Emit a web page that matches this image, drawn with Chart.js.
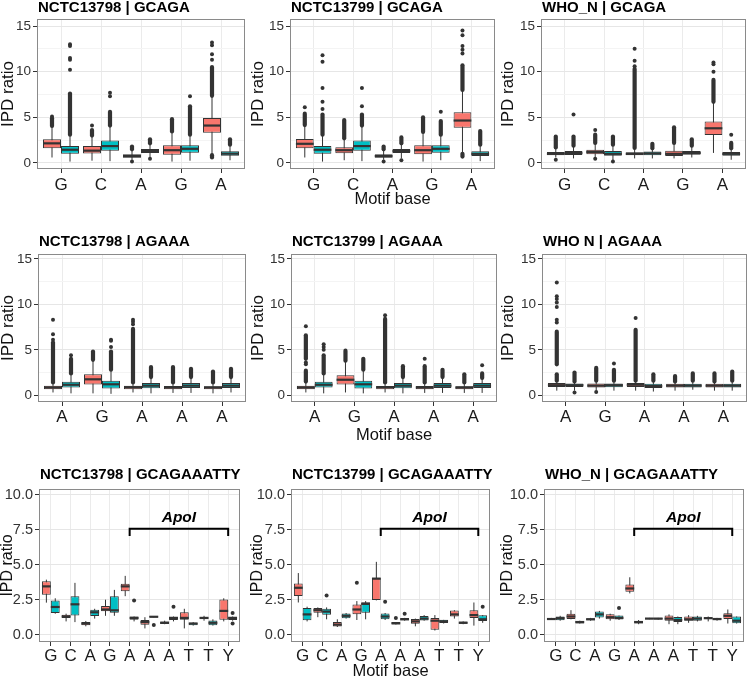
<!DOCTYPE html>
<html>
<head>
<meta charset="utf-8">
<script src="https://cdn.jsdelivr.net/npm/chart.js@4.4.0/dist/chart.umd.min.js"></script>
<style>
  body { margin: 0; background: #fff; width: 748px; height: 680px; position: relative; overflow: hidden; }
  canvas { position: absolute; }
</style>
</head>
<body>
<canvas id="p1"></canvas><canvas id="p2"></canvas><canvas id="p3"></canvas>
<canvas id="p4"></canvas><canvas id="p5"></canvas><canvas id="p6"></canvas>
<canvas id="p7"></canvas><canvas id="p8"></canvas><canvas id="p9"></canvas>
<script>
// categories
const motifGCAGA = ['G', 'C', 'A', 'G', 'A'];
const motifAGAAA = ['A', 'G', 'A', 'A', 'A'];
const motifLong = ['G', 'C', 'A', 'G', 'A', 'A', 'A', 'T', 'T', 'Y'];

// y tick labels
const yTicksBig = [0, 5, 10, 15];
const yMinorBig = [2.5, 7.5, 12.5];
const yTicksSmall = [0, 2.5, 5, 7.5, 10];
const yMinorSmall = [1.25, 3.75, 6.25, 8.75];

// box stats per base: [lower whisker, q1, median, q3, upper whisker]
// bands = ranges where outliers overlap into a solid column, pts = single outliers

// NCTC13798 | GCAGA
const n98gRed = [[0.6, 1.6, 2.15, 2.59, 4.05], [0.25, 1.05, 1.35, 1.85, 3.0], [0.35, 0.58, 0.75, 0.95, 1.5], [0.15, 0.91, 1.4, 1.93, 3.45], [0.9, 3.32, 4.1, 4.93, 7.35]];
const n98gTeal = [[0.15, 1.02, 1.45, 1.86, 3.1], [0.2, 1.35, 1.85, 2.45, 4.1], [0.5, 1.1, 1.3, 1.53, 2.15], [0.25, 1.13, 1.55, 1.93, 3.1], [0.3, 0.8, 1.02, 1.28, 2.0]];
const n98gRedBand = [[[4.05, 4.9]], [[3.0, 3.6]], [[1.5, 1.8]], [[3.45, 4.8]], [[7.35, 10.5], [0.6, 0.85]]];
const n98gTealBand = [[[3.1, 7.6]], [[4.1, 5.6]], [[2.15, 2.6]], [[3.1, 6.2]], [[2.0, 2.6]]];
const n98gRedPts = [[5.1], [4.1], [0.15], [], [11.3, 11.9, 12.9, 13.2]];
const n98gTealPts = [[10.2, 11.3, 11.5, 12.8, 13.0], [7.3, 7.7], [0.45], [7.3], []];

// NCTC13799 | GCAGA
const n99gRed = [[0.6, 1.6, 2.1, 2.63, 4.15], [0.3, 1.06, 1.4, 1.72, 2.7], [0.35, 0.58, 0.75, 0.95, 1.5], [0.15, 0.95, 1.4, 1.93, 3.4], [1.2, 3.87, 4.65, 5.55, 8.0]];
const n99gTeal = [[0.15, 1.02, 1.45, 1.86, 3.1], [0.2, 1.35, 1.85, 2.45, 4.1], [0.5, 1.1, 1.3, 1.53, 2.15], [0.3, 1.13, 1.55, 1.93, 3.1], [0.2, 0.77, 1.0, 1.28, 2.0]];
const n99gRedBand = [[[4.15, 5.4]], [[2.7, 4.7]], [[1.5, 1.8]], [[3.4, 5.0]], [[8.0, 10.7], [0.7, 1.0]]];
const n99gTealBand = [[[3.1, 5.3]], [[4.1, 5.3]], [[2.15, 2.8]], [[3.1, 4.6]], [[2.0, 3.5]]];
const n99gRedPts = [[6.1], [], [0.15], [], [12.0, 12.4, 12.8, 14.0, 14.5]];
const n99gTealPts = [[5.9, 6.7, 8.2, 11.1, 11.8], [6.2, 8.2], [0.3], [5.6], []];

// WHO_N | GCAGA
const whogRed = [[0.6, 0.84, 1.0, 1.2, 1.7], [0.5, 0.95, 1.2, 1.46, 2.2], [0.5, 0.84, 1.0, 1.17, 1.65], [0.5, 0.77, 1.0, 1.35, 2.2], [1.1, 3.07, 3.8, 4.53, 6.7]];
const whogTeal = [[0.5, 0.88, 1.1, 1.3, 1.9], [0.3, 0.8, 1.0, 1.3, 2.0], [0.5, 0.85, 1.05, 1.25, 1.6], [0.6, 0.9, 1.1, 1.3, 1.9], [0.35, 0.8, 1.0, 1.2, 1.6]];
const whogRedBand = [[[1.7, 2.9]], [[2.2, 3.1]], [[1.65, 10.3]], [[2.2, 3.9]], [[6.7, 9.1]]];
const whogTealBand = [[[1.9, 2.9]], [[2.0, 2.9]], [[1.6, 2.1]], [[1.9, 2.6]], [[1.6, 2.2]]];
const whogRedPts = [[0.35], [3.6, 0.45], [10.6, 11.2, 12.5], [], [10.0, 10.8, 11.0]];
const whogTealPts = [[5.3], [0.15], [], [], [3.1]];

// NCTC13798 | AGAAA
const n98aRed = [[0.3, 0.66, 0.85, 1.03, 1.4], [0.2, 1.18, 1.75, 2.32, 3.9], [0.3, 0.66, 0.88, 1.03, 1.4], [0.25, 0.66, 0.85, 1.0, 1.4], [0.2, 0.66, 0.85, 0.98, 1.4]];
const n98aTeal = [[0.2, 0.85, 1.15, 1.47, 2.4], [0.15, 0.74, 1.2, 1.58, 2.8], [0.2, 0.77, 1.05, 1.33, 2.0], [0.25, 0.8, 1.05, 1.33, 2.0], [0.3, 0.8, 1.05, 1.33, 2.0]];
const n98aRedBand = [[[1.4, 5.8]], [[3.9, 4.8]], [[1.4, 7.3]], [[1.4, 3.1]], [[1.4, 2.6]]];
const n98aTealBand = [[[2.4, 4.0]], [[2.8, 4.8]], [[2.0, 3.1]], [[2.0, 2.9]], [[2.0, 2.9]]];
const n98aRedPts = [[6.1, 6.7, 8.3], [], [7.8, 8.1, 8.3], [], []];
const n98aTealPts = [[4.4], [5.3, 6.0, 6.1], [], [], []];

// NCTC13799 | AGAAA
const n99aRed = [[0.3, 0.66, 0.85, 1.03, 1.5], [0.3, 1.18, 1.7, 2.2, 3.8], [0.3, 0.66, 0.88, 1.0, 1.4], [0.25, 0.66, 0.85, 1.0, 1.4], [0.25, 0.66, 0.85, 0.98, 1.4]];
const n99aTeal = [[0.2, 0.85, 1.15, 1.47, 2.4], [0.2, 0.74, 1.2, 1.6, 2.8], [0.2, 0.77, 1.05, 1.33, 2.0], [0.25, 0.8, 1.05, 1.33, 2.0], [0.25, 0.8, 1.05, 1.33, 1.9]];
const n99aRedBand = [[[1.5, 2.7], [4.0, 6.6]], [[3.8, 4.9]], [[1.4, 8.4]], [[1.4, 3.2]], [[1.4, 2.3]]];
const n99aTealBand = [[[2.4, 4.4]], [[2.8, 4.0]], [[2.0, 3.2]], [[2.0, 2.8]], [[1.9, 2.4]]];
const n99aRedPts = [[3.4, 3.6, 7.6], [], [8.8], [4.0], []];
const n99aTealPts = [[5.0, 5.3, 5.6], [], [], [], [3.3]];

// WHO_N | AGAAA
const whoaRed = [[0.5, 0.89, 1.1, 1.33, 1.6], [0.5, 0.85, 1.05, 1.3, 1.6], [0.5, 0.9, 1.15, 1.35, 1.6], [0.5, 0.85, 1.05, 1.25, 1.5], [0.5, 0.85, 1.05, 1.25, 1.5]];
const whoaTeal = [[0.5, 0.9, 1.1, 1.3, 1.5], [0.5, 0.88, 1.1, 1.3, 1.6], [0.4, 0.8, 1.0, 1.25, 1.6], [0.6, 0.85, 1.05, 1.25, 1.6], [0.5, 0.85, 1.05, 1.25, 1.6]];
const whoaRedBand = [[[1.6, 2.3], [3.4, 7.0]], [[1.6, 3.0]], [[1.6, 7.2]], [[1.5, 2.1]], [[1.5, 2.4]]];
const whoaTealBand = [[[1.5, 2.5]], [[1.6, 2.8]], [[1.6, 2.3]], [[1.6, 2.4]], [[1.6, 2.6]]];
const whoaRedPts = [[8.0, 8.3, 9.7, 10.2, 10.6, 10.9, 12.4], [0.35], [8.5], [], []];
const whoaTealPts = [[0.3], [3.5], [], [], []];

// NCTC13798 | GCAGAAATTY
const n98lRed = [[2.29, 2.86, 3.45, 3.81, 3.93], [0.95, 1.19, 1.3, 1.43, 1.5], [0.6, 0.67, 0.8, 0.9, 0.98], [1.35, 1.67, 1.8, 2.05, 2.5], [2.75, 3.1, 3.45, 3.64, 4.2],
                 [0.45, 0.71, 0.9, 1.05, 1.25], [0.75, 0.76, 0.85, 0.95, 1.0], [0.45, 1.07, 1.2, 1.6, 1.85], [1.0, 1.1, 1.2, 1.26, 1.35], [0.95, 1.07, 1.7, 2.52, 2.6]];
const n98lTeal = [[1.5, 1.55, 1.98, 2.45, 2.6], [0.9, 1.38, 2.17, 2.74, 3.7], [1.15, 1.33, 1.6, 1.79, 1.85], [1.35, 1.57, 1.74, 2.74, 3.2], [0.95, 1.07, 1.2, 1.3, 1.3],
                  [1.24, 1.24, 1.28, 1.33, 1.33], [0.95, 1.05, 1.2, 1.28, 1.3], [0.65, 0.67, 0.8, 0.86, 0.9], [0.65, 0.67, 0.85, 1.02, 1.1], [1.0, 1.05, 1.2, 1.28, 1.3]];
const n98lTealPts = [[], [], [], [], [2.45], [0.7], [2.0], [], [], [1.55, 0.8]];

// NCTC13799 | GCAGAAATTY
const n99lRed = [[2.3, 2.76, 3.35, 3.66, 4.4], [1.25, 1.56, 1.75, 1.91, 1.95], [0.55, 0.59, 0.72, 0.9, 1.1], [1.05, 1.46, 1.8, 2.15, 2.4], [2.45, 2.48, 4.0, 4.06, 5.2],
                 [0.73, 0.73, 0.82, 0.9, 0.9], [0.6, 0.78, 0.95, 1.13, 1.15], [0.3, 0.35, 1.0, 1.2, 1.4], [1.15, 1.3, 1.45, 1.72, 1.75], [0.65, 1.2, 1.4, 1.75, 2.3]];
const n99lTeal = [[0.95, 1.04, 1.45, 1.91, 2.0], [1.1, 1.42, 1.65, 1.86, 1.95], [1.15, 1.18, 1.35, 1.51, 1.55], [1.1, 1.56, 2.2, 2.31, 2.4], [1.05, 1.11, 1.3, 1.51, 1.55],
                  [1.0, 1.04, 1.1, 1.2, 1.2], [1.0, 1.01, 1.15, 1.34, 1.4], [0.8, 0.83, 0.95, 1.06, 1.06], [0.75, 0.78, 0.85, 0.94, 0.95], [0.85, 0.97, 1.1, 1.39, 1.4]];
const n99lRedPts = [[], [], [], [3.7], [], [1.2], [], [], [], []];
const n99lTealPts = [[], [2.8], [], [], [2.35], [1.5], [], [], [], [2.0]];

// WHO_N | GCAGAAATTY
const wholRed = [[1.05, 1.08, 1.12, 1.2, 1.2], [1.1, 1.13, 1.3, 1.5, 1.75], [1.0, 1.04, 1.1, 1.18, 1.2], [1.0, 1.1, 1.25, 1.46, 1.5], [2.95, 3.07, 3.3, 3.58, 4.1],
                 [1.1, 1.1, 1.15, 1.2, 1.2], [0.75, 0.99, 1.15, 1.37, 1.45], [0.85, 0.99, 1.1, 1.3, 1.4], [0.95, 1.13, 1.18, 1.25, 1.3], [0.8, 1.13, 1.35, 1.53, 1.8]];
const wholTeal = [[1.0, 1.04, 1.18, 1.3, 1.35], [0.8, 0.8, 0.9, 1.0, 1.0], [1.15, 1.23, 1.45, 1.65, 1.7], [1.05, 1.08, 1.2, 1.37, 1.37], [0.75, 0.8, 0.9, 1.0, 1.05],
                  [1.08, 1.08, 1.15, 1.2, 1.2], [0.75, 0.9, 1.05, 1.27, 1.3], [0.95, 0.99, 1.15, 1.3, 1.35], [1.0, 1.04, 1.12, 1.2, 1.2], [0.8, 0.82, 1.0, 1.3, 1.3]];
const wholTealPts = [[], [], [], [1.9], [], [], [], [], [], []];

// ApoI site: from 5th to 10th base
const apoiSpan = [5, 10];

const FONT = "'Liberation Sans', Arial, Helvetica, sans-serif";
const RED = '#F8766D';
const TEAL = '#00BFC4';
const INK = '#333333';

const cols = [{ left: 0, w: 250 }, { left: 250, w: 250 }, { left: 500, w: 248 }];
const rows = [
  { top: 0, h: 215, plotT: 19, plotB: 169, yMin: -0.66, yMax: 15.77, major: yTicksBig, minor: yMinorBig, dec: 0, tickFont: 13.5, yTitle: 17, xPad: 2, titleBase: 12, xTitleMid: 199.5 },
  { top: 225, h: 225, plotT: 254, plotB: 402, yMin: -0.75, yMax: 15.55, major: yTicksBig, minor: yMinorBig, dec: 0, tickFont: 13.5, yTitle: 17, xPad: 1, titleBase: 246, xTitleMid: 435 },
  { top: 460, h: 220, plotT: 489, plotB: 642, yMin: -0.52, yMax: 10.4, major: yTicksSmall, minor: yMinorSmall, dec: 1, tickFont: 14.5, yTitle: 16, xPad: 0, titleBase: 479, xTitleMid: 671.6 }
];

const panels = [
  { id: 'p1', row: 0, col: 0, plot: [37, 245], title: 'NCTC13798 | GCAGA', cats: motifGCAGA, red: n98gRed, teal: n98gTeal, redBand: n98gRedBand, tealBand: n98gTealBand, redPts: n98gRedPts, tealPts: n98gTealPts },
  { id: 'p2', row: 0, col: 1, plot: [290, 495], title: 'NCTC13799 | GCAGA', cats: motifGCAGA, red: n99gRed, teal: n99gTeal, redBand: n99gRedBand, tealBand: n99gTealBand, redPts: n99gRedPts, tealPts: n99gTealPts, xTitle: true },
  { id: 'p3', row: 0, col: 2, plot: [541, 746], title: 'WHO_N | GCAGA', cats: motifGCAGA, red: whogRed, teal: whogTeal, redBand: whogRedBand, tealBand: whogTealBand, redPts: whogRedPts, tealPts: whogTealPts },
  { id: 'p4', row: 1, col: 0, plot: [38, 246], title: 'NCTC13798 | AGAAA', cats: motifAGAAA, red: n98aRed, teal: n98aTeal, redBand: n98aRedBand, tealBand: n98aTealBand, redPts: n98aRedPts, tealPts: n98aTealPts },
  { id: 'p5', row: 1, col: 1, plot: [291, 497], title: 'NCTC13799 | AGAAA', cats: motifAGAAA, red: n99aRed, teal: n99aTeal, redBand: n99aRedBand, tealBand: n99aTealBand, redPts: n99aRedPts, tealPts: n99aTealPts, xTitle: true },
  { id: 'p6', row: 1, col: 2, plot: [542, 747], title: 'WHO N | AGAAA', cats: motifAGAAA, red: whoaRed, teal: whoaTeal, redBand: whoaRedBand, tealBand: whoaTealBand, redPts: whoaRedPts, tealPts: whoaTealPts },
  { id: 'p7', row: 2, col: 0, plot: [39, 240], title: 'NCTC13798 | GCAGAAATTY', cats: motifLong, red: n98lRed, teal: n98lTeal, tealPts: n98lTealPts, apoi: true },
  { id: 'p8', row: 2, col: 1, plot: [291, 490], title: 'NCTC13799 | GCAGAAATTY', cats: motifLong, red: n99lRed, teal: n99lTeal, redPts: n99lRedPts, tealPts: n99lTealPts, apoi: true, xTitle: true },
  { id: 'p9', row: 2, col: 2, plot: [544, 744], title: 'WHO_N | GCAGAAATTY', cats: motifLong, red: wholRed, teal: wholTeal, tealPts: wholTealPts, apoi: true }
];

// whiskers, outliers, medians, panel border, title and ApoI bracket
function boxExtras(p, r) {
  const series = [[p.red, p.redBand, p.redPts], [p.teal, p.tealBand, p.tealPts]];
  return {
    id: 'boxExtras',
    beforeDatasetsDraw(chart) {
      const ctx = chart.ctx, y = chart.scales.y;
      ctx.save();
      series.forEach(([boxes, bands, pts], d) => {
        const meta = chart.getDatasetMeta(d);
        boxes.forEach((b, i) => {
          const x = meta.data[i].x;
          ctx.strokeStyle = INK; ctx.lineWidth = 1; ctx.lineCap = 'butt';
          ctx.beginPath();
          ctx.moveTo(x, y.getPixelForValue(b[0]));
          ctx.lineTo(x, y.getPixelForValue(b[4]));
          ctx.stroke();
          (bands ? bands[i] : []).forEach(bd => {
            ctx.lineWidth = 4.2; ctx.lineCap = 'round';
            ctx.beginPath();
            ctx.moveTo(x, y.getPixelForValue(bd[0]));
            ctx.lineTo(x, y.getPixelForValue(bd[1]));
            ctx.stroke();
          });
          ctx.fillStyle = INK;
          (pts ? pts[i] : []).forEach(v => {
            ctx.beginPath();
            ctx.arc(x, y.getPixelForValue(v), 2, 0, Math.PI * 2);
            ctx.fill();
          });
        });
      });
      ctx.restore();
    },
    afterDatasetsDraw(chart) {
      const ctx = chart.ctx, y = chart.scales.y, x = chart.scales.x;
      ctx.save();
      series.forEach(([boxes], d) => {
        const meta = chart.getDatasetMeta(d);
        boxes.forEach((b, i) => {
          const el = meta.data[i];
          const yy = y.getPixelForValue(b[2]);
          ctx.strokeStyle = INK; ctx.lineWidth = 2.2;
          ctx.beginPath();
          ctx.moveTo(el.x - el.width / 2, yy);
          ctx.lineTo(el.x + el.width / 2, yy);
          ctx.stroke();
        });
      });
      if (p.apoi) {
        const x0 = x.getPixelForValue(apoiSpan[0]), x1 = x.getPixelForValue(apoiSpan[1]);
        const yTop = y.getPixelForValue(7.57), yEnd = y.getPixelForValue(7.04);
        ctx.strokeStyle = '#000'; ctx.lineWidth = 2; ctx.lineCap = 'butt';
        ctx.beginPath();
        ctx.moveTo(x0, yEnd); ctx.lineTo(x0, yTop); ctx.lineTo(x1, yTop); ctx.lineTo(x1, yEnd);
        ctx.stroke();
        ctx.fillStyle = '#000';
        ctx.font = 'italic bold 15.5px ' + FONT;
        ctx.textAlign = 'center'; ctx.textBaseline = 'middle';
        ctx.fillText('ApoI', (x0 + x1) / 2, y.getPixelForValue(8.38));
      }
      ctx.restore();
    },
    afterDraw(chart) {
      const ctx = chart.ctx, a = chart.chartArea;
      ctx.save();
      ctx.strokeStyle = '#8a8a8a'; ctx.lineWidth = 1;
      ctx.strokeRect(a.left + 0.5, a.top + 0.5, a.right - a.left - 1, a.bottom - a.top - 1);
      ctx.fillStyle = '#000';
      ctx.font = 'bold 15px ' + FONT;
      ctx.textAlign = 'left'; ctx.textBaseline = 'alphabetic';
      ctx.fillText(p.title, a.left + 1, r.titleBase - r.top);
      ctx.restore();
    }
  };
}

function build(p) {
  const r = rows[p.row], c = cols[p.col];
  const canvas = document.getElementById(p.id);
  canvas.width = c.w; canvas.height = r.h;
  canvas.style.left = c.left + 'px'; canvas.style.top = r.top + 'px';
  const n = p.cats.length;
  const yAll = r.major.concat(r.minor).sort((a, b) => a - b);
  const isMajor = v => r.major.indexOf(v) !== -1;
  const mkData = boxes => boxes.map((b, i) => ({ x: i + 1, y: [b[1], b[3]] }));
  const barStyle = { borderColor: INK, borderWidth: 1, borderSkipped: false, categoryPercentage: 0.9, barPercentage: 1 };

  new Chart(canvas, {
    type: 'bar',
    data: {
      datasets: [
        Object.assign({ label: 'red', data: mkData(p.red), backgroundColor: RED }, barStyle),
        Object.assign({ label: 'teal', data: mkData(p.teal), backgroundColor: TEAL }, barStyle)
      ]
    },
    options: {
      responsive: false,
      animation: false,
      layout: { padding: { top: r.plotT - r.top, right: c.left + c.w - p.plot[1], left: 0, bottom: 0 } },
      plugins: { legend: { display: false }, tooltip: { enabled: false }, title: { display: false } },
      scales: {
        x: {
          type: 'linear', min: 0.4, max: n + 0.6, offset: false,
          afterBuildTicks: s => { s.ticks = p.cats.map((_, i) => ({ value: i + 1 })); },
          afterFit: s => { s.height = r.top + r.h - r.plotB; },
          ticks: { callback: v => p.cats[v - 1], autoSkip: false, maxRotation: 0, padding: r.xPad, color: '#1a1a1a', font: { family: FONT, size: 17 } },
          grid: { offset: false, color: '#ebebeb', lineWidth: 1, tickColor: INK, tickLength: 4 },
          border: { display: false },
          title: {
            display: !!p.xTitle, text: 'Motif base', color: '#111',
            font: { family: FONT, size: 16.5, lineHeight: 1 },
            padding: { top: 0, bottom: r.top + r.h - r.xTitleMid - 8.25 }
          }
        },
        y: {
          min: r.yMin, max: r.yMax,
          afterBuildTicks: s => { s.ticks = yAll.map(v => ({ value: v })); },
          afterFit: s => { s.width = p.plot[0] - c.left; },
          ticks: {
            callback: v => isMajor(v) ? v.toFixed(r.dec) : '',
            padding: 2, color: '#333', font: { family: FONT, size: r.tickFont }
          },
          grid: {
            color: ctx => isMajor(ctx.tick.value) ? '#e6e6e6' : '#f4f4f4',
            tickColor: ctx => isMajor(ctx.tick.value) ? INK : 'rgba(0,0,0,0)',
            tickLength: 4
          },
          border: { display: false },
          title: { display: true, text: 'IPD ratio', color: '#111', font: { family: FONT, size: r.yTitle, lineHeight: 1 }, padding: { top: 0, bottom: 0 } }
        }
      }
    },
    plugins: [boxExtras(p, r)]
  });
}

document.addEventListener('DOMContentLoaded', () => {
  panels.forEach(build);
});
</script>
</body>
</html>
